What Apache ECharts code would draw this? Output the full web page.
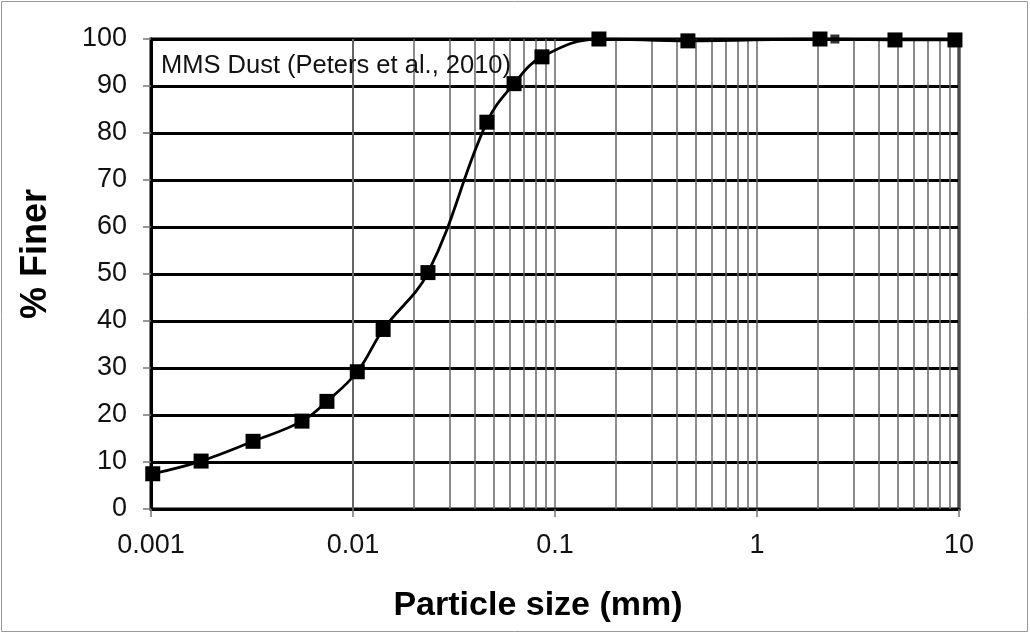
<!DOCTYPE html>
<html>
<head>
<meta charset="utf-8">
<script src="https://cdn.jsdelivr.net/npm/echarts@6/dist/echarts.min.js"></script>
<style>
  html, body { margin: 0; padding: 0; background: #fff; }
  #chart { width: 1030px; height: 634px; }
</style>
</head>
<body>
<div id="chart"></div>
<script>
/* MMS Dust grain size curve */
var sizes = [0.00102, 0.00177, 0.0032, 0.00559, 0.00743, 0.0105, 0.0141, 0.0235, 0.046, 0.0627, 0.0862, 0.165, 0.455, 2.05, 4.82, 9.55];
var finer = [7.5, 10.2, 14.4, 18.7, 22.9, 29.2, 38.2, 50.3, 82.3, 90.5, 96.2, 100, 99.6, 100, 99.8, 99.8];
var extraSize = [2.43];
var extraFiner = [100];
var xTicks = [0.001, 0.01, 0.1, 1, 10];
var xTickLabels = ['0.001', '0.01', '0.1', '1', '10'];
var minorGrid = [];
for (var d = 0; d < 4; d++) {
  for (var m = 2; m <= 9; m++) {
    minorGrid.push(+(m * xTicks[d]).toPrecision(3));
  }
}

var chart = echarts.init(document.getElementById('chart'));
var font = '"Liberation Sans", Arial, sans-serif';

function pairs(xs, ys) {
  var out = [];
  for (var i = 0; i < xs.length; i++) out.push([xs[i], ys[i]]);
  return out;
}

chart.setOption({
  animation: false,
  grid: {
    left: 151, right: 71, top: 39, bottom: 125,
    show: true, borderColor: '#000', borderWidth: 3
  },
  graphic: [
    {
      type: 'rect', silent: true,
      shape: { x: 1.5, y: 1.5, width: 1026, height: 630 },
      style: { fill: 'none', stroke: '#999', lineWidth: 1 }
    },
    {
      type: 'text', left: 161, top: 53, z: 10,
      style: { text: 'MMS Dust (Peters et al., 2010)', font: '25.5px ' + font, fill: '#111' }
    }
  ],
  xAxis: {
    type: 'log', logBase: 10, min: 0.001, max: 10,
    name: 'Particle size (mm)', nameLocation: 'middle', nameGap: 80,
    nameTextStyle: { fontFamily: font, fontSize: 34, fontWeight: 'bold', color: '#000', padding: [0, 34, 0, 0] },
    axisLine: { lineStyle: { color: '#000', width: 3 } },
    axisTick: { length: 8, lineStyle: { color: '#777', width: 1.5 } },
    axisLabel: {
      fontFamily: font, fontSize: 27, color: '#111', margin: 23,
      formatter: function(v) {
        for (var i = 0; i < xTicks.length; i++) {
          if (Math.abs(Math.log10(v) - Math.log10(xTicks[i])) < 1e-6) return xTickLabels[i];
        }
        return '';
      }
    },
    splitLine: { show: true, lineStyle: { color: '#666', width: 1.5 } }
  },
  yAxis: {
    type: 'value', min: 0, max: 100, interval: 10,
    name: '% Finer', nameLocation: 'middle', nameGap: 97, nameRotate: 90,
    nameTextStyle: { fontFamily: font, fontSize: 36, fontWeight: 'bold', color: '#000', padding: [0, 0, 0, 40] },
    axisLine: { show: true, lineStyle: { color: '#000', width: 3 } },
    axisTick: { show: true, length: 8, lineStyle: { color: '#777', width: 1.5 } },
    axisLabel: { fontFamily: font, fontSize: 27, color: '#111', margin: 24 },
    splitLine: { show: true, lineStyle: { color: '#000', width: 3 } }
  },
  series: [
    {
      type: 'line', z: -1, silent: true,
      data: [],
      markLine: {
        silent: true, symbol: 'none', animation: false,
        label: { show: false },
        lineStyle: { color: '#666', width: 1.5, type: 'solid' },
        data: minorGrid.map(function(v) { return { xAxis: v }; })
      }
    },
    {
      name: 'MMS Dust', type: 'line', smooth: 0.4,
      data: pairs(sizes, finer),
      symbol: 'rect', symbolSize: 15,
      itemStyle: { color: '#000' },
      lineStyle: { color: '#000', width: 2.8 },
      z: 5
    },
    {
      type: 'scatter',
      data: pairs(extraSize, extraFiner),
      symbol: 'rect', symbolSize: 9,
      itemStyle: { color: '#000' },
      z: 5
    }
  ]
});
</script>
</body>
</html>
